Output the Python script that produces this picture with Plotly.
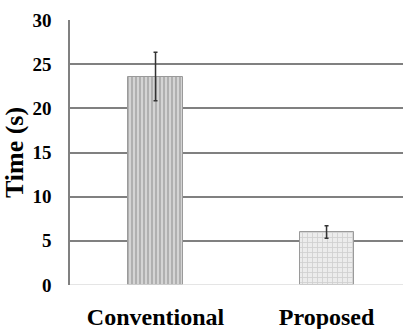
import plotly.graph_objects as go

categories = ["Conventional", "Proposed"]
times = [23.6, 6.0]
errors = [2.75, 0.7]
y_ticks = [0, 5, 10, 15, 20, 25, 30]

font_family = "Liberation Serif"

fig = go.Figure()
fig.add_trace(go.Bar(
    x=categories,
    y=times,
    width=0.316,
    marker=dict(
        color="#d9d9d9",
        line=dict(color="#9a9a9a", width=1),
        pattern=dict(
            shape=["|", "+"],
            fgcolor=["#858585", "#b0b0b0"],
            bgcolor=["#d4d4d4", "#ececec"],
            size=[4, 5],
            solidity=[0.45, 0.3],
        ),
    ),
    error_y=dict(type="data", array=errors, color="#333333", thickness=1.5, width=2),
))

fig.update_layout(
    width=403, height=329,
    margin=dict(l=70, r=0, t=20, b=44, autoexpand=False),
    paper_bgcolor="white", plot_bgcolor="white",
    showlegend=False,
    font=dict(family=font_family, color="black"),
    bargap=0,
)
fig.update_xaxes(
    automargin=False,
    range=[-0.5, 1.447],
    showgrid=False, zeroline=False,
    showline=False,
    tickfont=dict(size=24, family=font_family, weight="bold"),
    ticks="", ticklabelstandoff=15,
)
fig.update_yaxes(
    automargin=False,
    range=[0, 30], tickvals=y_ticks,
    showgrid=True, gridcolor="#808080", gridwidth=1.5,
    zeroline=False,
    showline=True, linecolor="#808080", linewidth=1.5,
    tickfont=dict(size=19, family=font_family, weight="bold"),
    ticks="", ticklabelstandoff=13,
    title=dict(text="Time (s)", font=dict(size=26, family=font_family, weight="bold"), standoff=2),
)
fig.add_shape(type="line", xref="paper", yref="y", x0=0, x1=1, y0=0, y1=0,
              line=dict(color="#dddddd", width=1.5))

fig.write_html("out.html", config={"displayModeBar": False},
               post_script="document.body.style.margin='0';document.body.style.overflow='hidden';")
